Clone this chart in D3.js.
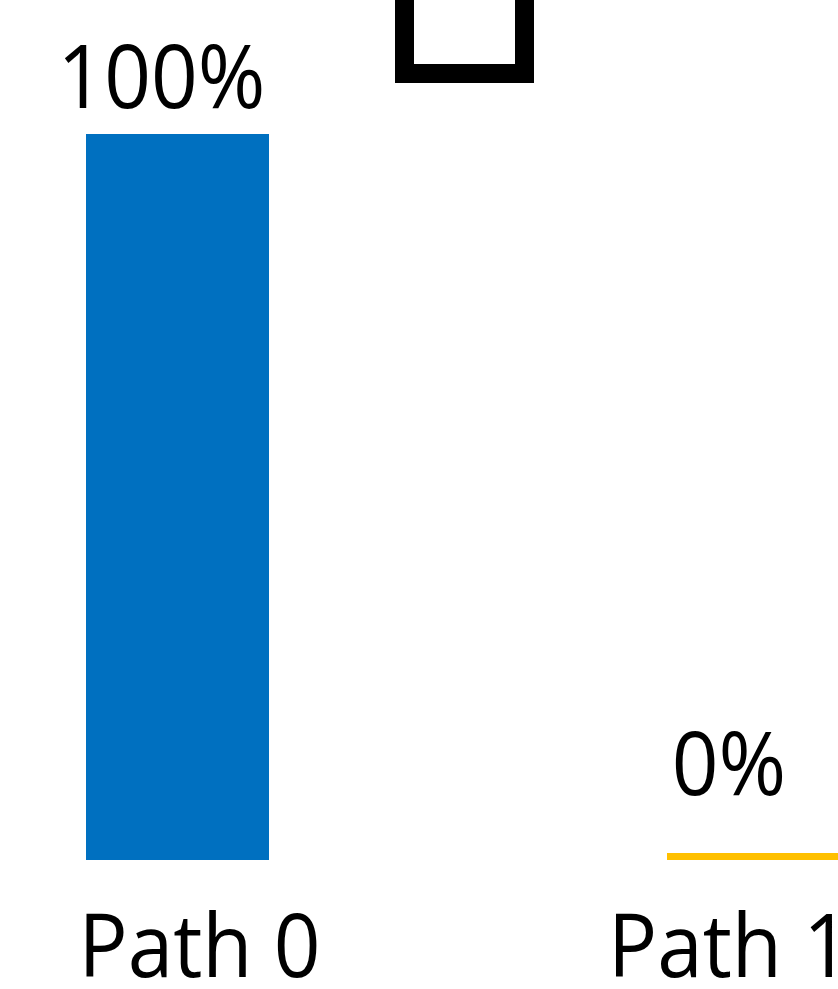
<!DOCTYPE html>
<html>
<head>
<meta charset="utf-8">
<script src="https://cdn.jsdelivr.net/npm/d3@7"></script>
<style>
  html, body { margin: 0; padding: 0; background: #fff; }
  svg { display: block; }
  text { font-family: "Open Sans", "Noto Sans", sans-serif; fill: #000; }
</style>
</head>
<body>
<svg id="chart" width="838" height="989"></svg>
<script>
// Share of runs taking each path
const categories = ["Path 0", "Path 1"];
const values = [100, 0];
const valueLabels = ["100%", "0%"];
const barColors = ["#0070C0", "#FFC000"];

const svg = d3.select("#chart");

// Bars: band scale spanning both categories, value axis 0..100
const x = d3.scaleBand().domain(categories).range([86, 850])
  .paddingInner(398 / 581).paddingOuter(0);
const y = d3.scaleLinear().domain([0, 100]).range([860, 134]);

// Text positions along x
const catX = d3.scalePoint().domain(categories).range([199.5, 729]);
const valX = d3.scalePoint().domain(categories).range([161.5, 729]);

const minBar = 7; // zero-valued bars still show as a thin strip
const fontSize = 88;
const squeeze = 0.93;

// Legend marker, partially above the top edge
svg.append("rect")
  .attr("x", 404.5).attr("y", -46.5)
  .attr("width", 120).attr("height", 120)
  .attr("fill", "#fff").attr("stroke", "#000").attr("stroke-width", 19);

svg.selectAll("rect.bar")
  .data(categories)
  .join("rect")
  .attr("class", "bar")
  .attr("x", d => x(d))
  .attr("width", x.bandwidth())
  .attr("y", (d, i) => Math.min(y(values[i]), y(0) - minBar))
  .attr("height", (d, i) => Math.max(y(0) - y(values[i]), minBar))
  .attr("fill", (d, i) => barColors[i]);

// Value labels
svg.selectAll("text.val")
  .data(categories)
  .join("text")
  .attr("class", "val")
  .attr("text-anchor", "middle")
  .attr("font-size", fontSize)
  .attr("transform", (d, i) => {
    const ty = Math.min(y(values[i]) - 26, y(0) - 65);
    return `translate(${valX(d)},${ty}) scale(${squeeze},1)`;
  })
  .text((d, i) => valueLabels[i]);

// Category labels
svg.selectAll("text.cat")
  .data(categories)
  .join("text")
  .attr("class", "cat")
  .attr("text-anchor", "middle")
  .attr("font-size", fontSize)
  .attr("transform", d => `translate(${catX(d)},977) scale(${squeeze},1)`)
  .text(d => d);
</script>
</body>
</html>
